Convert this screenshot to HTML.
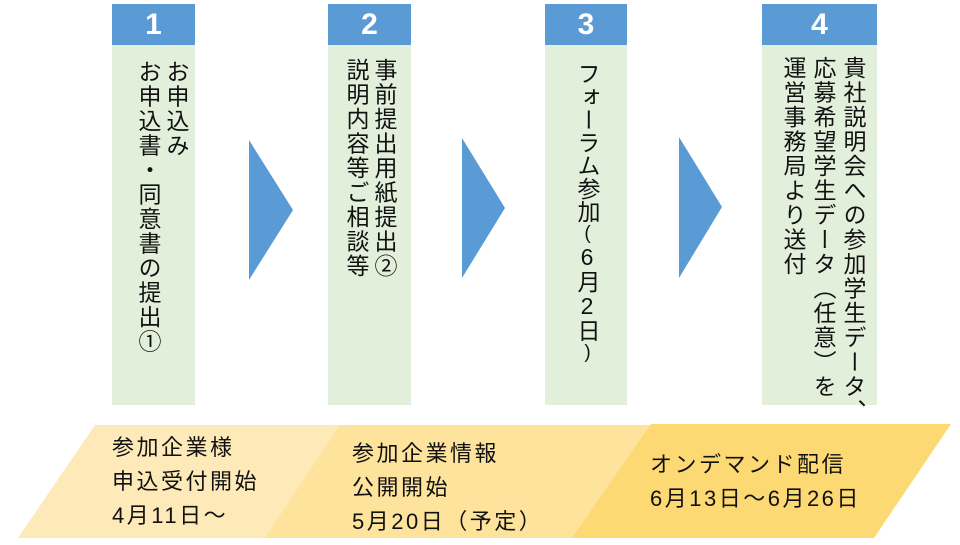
<!DOCTYPE html>
<html><head><meta charset="utf-8"><style>
body{margin:0;width:960px;height:545px;background:#fff;position:relative;overflow:hidden;font-family:"Liberation Sans","Noto Sans CJK JP",sans-serif}
.h{position:absolute;top:4px;height:41px;background:#5b9bd5;color:#fff;font-weight:bold;font-size:30px;text-align:center;line-height:41px}
.b{position:absolute;top:45px;height:360px;background:#e2efda}
.v{position:absolute;top:58px;writing-mode:vertical-rl;text-orientation:upright;font-size:23px;line-height:28px;letter-spacing:1.5px;color:#111;white-space:nowrap}
.t{position:absolute;font-size:22px;line-height:34px;color:#111;white-space:nowrap;letter-spacing:2.5px}
</style></head><body>
<div class="h" style="left:112px;width:83px">1</div><div class="b" style="left:112px;width:83px"></div>
<div class="h" style="left:328px;width:83px">2</div><div class="b" style="left:328px;width:83px"></div>
<div class="h" style="left:545px;width:82px">3</div><div class="b" style="left:545px;width:82px"></div>
<div class="h" style="left:762px;width:115px">4</div><div class="b" style="left:762px;width:115px"></div>
<div class="v" style="left:134px;top:60px">お申込み<br>お申込書・同意書の提出①</div>
<div class="v" style="left:342px">事前提出用紙提出②<br>説明内容等ご相談等</div>
<div class="v" style="left:573px;top:62px;letter-spacing:0;font-size:23px"><span>フォーラム参加</span><span style="font-size:19px">(</span>6月2日<span style="font-size:19px">)</span></div>
<div class="v" style="left:778px;top:56px;line-height:30px">貴社説明会への参加学生データ、<br>応募希望学生データ（任意）を<br>運営事務局より送付</div>
<svg width="960" height="545" style="position:absolute;left:0;top:0">
<polygon points="249,140 293,210 249,280" fill="#5b9bd5"/>
<polygon points="462,138 505,208 462,278" fill="#5b9bd5"/>
<polygon points="679,137 722,207 679,278" fill="#5b9bd5"/>
<polygon points="95,425 342,425 267,538 18,538" fill="#fdeab8"/>
<polygon points="340,425 653,425 574,538 265,538" fill="#fde39b"/>
<polygon points="651,424 951,424 874,538 572,538" fill="#fdd973"/>
</svg>
<div class="t" style="left:112px;top:431px">参加企業様<br>申込受付開始<br>4月11日～</div>
<div class="t" style="left:352px;top:437px">参加企業情報<br>公開開始<br>5月20日（予定）</div>
<div class="t" style="left:650px;top:448px">オンデマンド配信<br>6月13日～6月26日</div>
</body></html>
